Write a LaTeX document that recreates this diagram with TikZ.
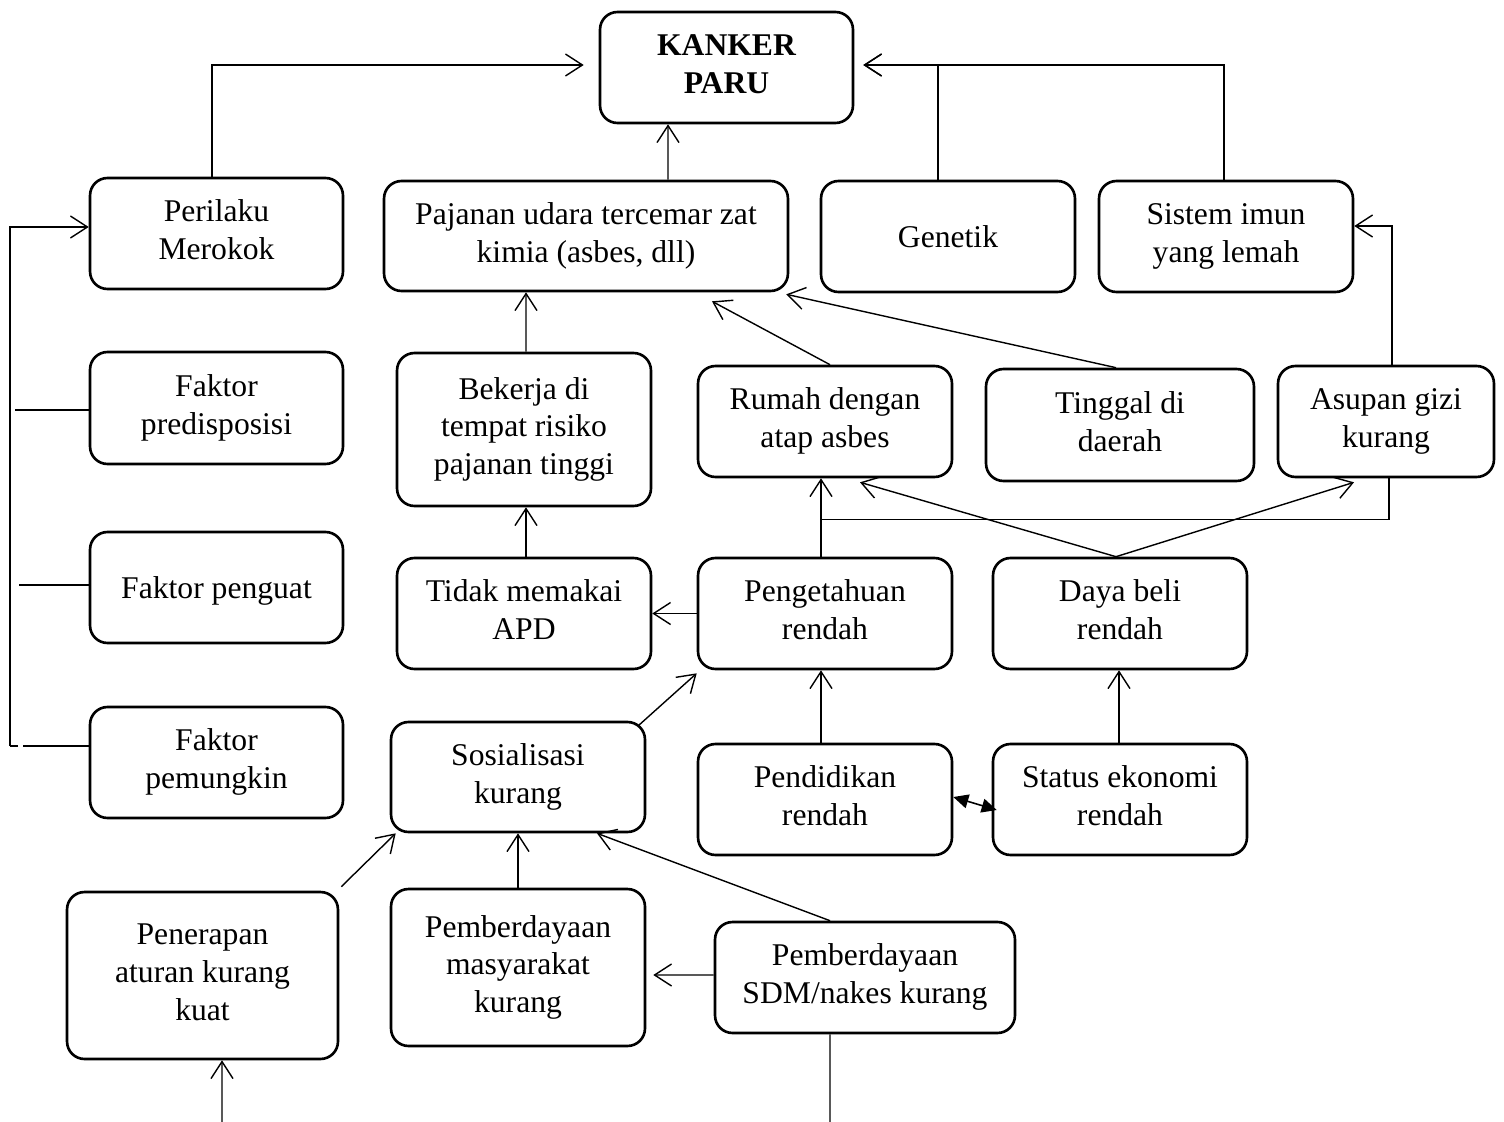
\documentclass[tikz,border=0pt]{standalone}
\usepackage{fontspec}
\setmainfont{Liberation Serif}
\usetikzlibrary{arrows.meta,calc}
\newcommand\topstrut{\rule{0pt}{16.5pt}}
\newcommand\botstrut{\rule[-4pt]{0pt}{4pt}}
\begin{document}
\begin{tikzpicture}[x=0.02cm,y=-0.02cm,
  box/.style={draw, line width=1.5pt, rounded corners=0.35cm, align=center, inner sep=0pt,
    font=\fontsize{18}{21.6}\selectfont, execute at begin node=\topstrut, execute at end node=\botstrut},
  arr/.style={line width=0.8pt, -{Straight Barb[length=0.34cm,width=0.44cm,line width=0.8pt]}},
  ln/.style={line width=0.8pt},
  dbl/.style={line width=0.9pt, {Triangle[length=0.3cm,width=0.28cm]}-{Triangle[length=0.3cm,width=0.28cm]}}
]
\useasboundingbox (0,0) rectangle (1504,1122);
\fill[white] (0,0) rectangle (1504,1122);

% nodes
\node[box, minimum width=5.06cm, minimum height=2.22cm, font=\fontsize{18}{21.6}\selectfont\bfseries] (kanker) at (726.5,67.5) {KANKER\\PARU};
\node[box, minimum width=5.06cm, minimum height=2.22cm] (perilaku) at (216.5,233.5) {Perilaku\\Merokok};
\node[box, minimum width=8.08cm, minimum height=2.2cm] (pajanan) at (586,236) {Pajanan udara tercemar zat\\kimia (asbes, dll)};
\node[box, minimum width=5.08cm, minimum height=2.22cm] (genetik) at (948,236.5) {Genetik};
\node[box, minimum width=5.08cm, minimum height=2.22cm] (imun) at (1226,236.5) {Sistem imun\\yang lemah};
\node[box, minimum width=5.06cm, minimum height=2.24cm] (predis) at (216.5,408) {Faktor\\predisposisi};
\node[box, minimum width=5.08cm, minimum height=3.06cm] (bekerja) at (524,429.5) {Bekerja di\\tempat risiko\\pajanan tinggi};
\node[box, minimum width=5.08cm, minimum height=2.22cm] (rumah) at (825,421.5) {Rumah dengan\\atap asbes};
\node[box, minimum width=5.36cm, minimum height=2.24cm] (tinggal) at (1120,425) {Tinggal di\\daerah};
\node[box, minimum width=4.32cm, minimum height=2.22cm] (asupan) at (1386,421.5) {Asupan gizi\\kurang};
\node[box, minimum width=5.06cm, minimum height=2.22cm] (penguat) at (216.5,587.5) {Faktor penguat};
\node[box, minimum width=5.08cm, minimum height=2.22cm] (tidak) at (524,613.5) {Tidak memakai\\APD};
\node[box, minimum width=5.08cm, minimum height=2.22cm] (penget) at (825,613.5) {Pengetahuan\\rendah};
\node[box, minimum width=5.08cm, minimum height=2.22cm] (daya) at (1120,613.5) {Daya beli\\rendah};
\node[box, minimum width=5.06cm, minimum height=2.22cm] (pemungkin) at (216.5,762.5) {Faktor\\pemungkin};
\node[box, minimum width=5.08cm, minimum height=2.2cm] (sosial) at (518,777) {Sosialisasi\\kurang};
\node[box, minimum width=5.08cm, minimum height=2.22cm] (pendidikan) at (825,799.5) {Pendidikan\\rendah};
\node[box, minimum width=5.08cm, minimum height=2.22cm] (status) at (1120,799.5) {Status ekonomi\\rendah};
\node[box, minimum width=5.42cm, minimum height=3.34cm] (penerapan) at (202.5,975.5) {Penerapan\\aturan kurang\\kuat};
\node[box, minimum width=5.08cm, minimum height=3.14cm] (masy) at (518,967.5) {Pemberdayaan\\masyarakat\\kurang};
\node[box, minimum width=6.0cm, minimum height=2.22cm] (sdm) at (865,977.5) {Pemberdayaan\\SDM/nakes kurang};

% free-end coordinates
\coordinate (lb) at (10,746);
\coordinate (lt) at (10,227);
\coordinate (lbs) at (18,746);
\coordinate (lbg) at (23,746);
\coordinate (lp1) at (15,410);
\coordinate (lp2) at (19,585);
\coordinate (b1) at (222,1122);
\coordinate (b2) at (830,1122);

% connectors to KANKER
\draw[arr, shorten >=0.3cm] ([xshift=-0.09cm]perilaku.north) |- ([yshift=0.05cm]kanker.west);
\draw[arr] ([xshift=1.64cm]pajanan.north) -- ([xshift=-1.17cm]kanker.south);
\draw[arr, shorten >=0.18cm] ([xshift=-0.2cm]genetik.north) |- ([yshift=0.05cm]kanker.east);
\draw[arr, shorten >=0.18cm] ([xshift=-0.04cm]imun.north) |- ([yshift=0.05cm]kanker.east);

% left bracket
\draw[ln] (lbs) -- (lb);
\draw[arr] (lb) -- (lt) -- (lt -| perilaku.west);
\draw[ln] (lp1) -- (lp1 -| predis.west);
\draw[ln] (lp2) -- (lp2 -| penguat.west);
\draw[ln] (lbg) -- (lbg -| pemungkin.west);

% to Pajanan
\draw[arr] ([xshift=0.04cm]bekerja.north) -- ([xshift=-1.2cm]pajanan.south);
\draw[arr] ([xshift=0.1cm]rumah.north) -- ([xshift=2.52cm,yshift=-0.18cm]pajanan.south);
\draw[arr] ([xshift=-0.08cm]tinggal.north) -- ([xshift=-0.06cm,yshift=-0.04cm]pajanan.south east);

% to Sistem imun
\draw[arr] ([xshift=0.12cm]asupan.north) |- ([yshift=0.21cm]imun.east);

% middle
\draw[arr] ([xshift=0.04cm]tidak.north) -- ([xshift=0.04cm]bekerja.south);
\draw[arr] (penget.west) -- (tidak.east);
\draw[arr] ([xshift=-0.08cm]penget.north) -- ([xshift=-0.08cm]rumah.south);
\draw[ln] ([xshift=-0.08cm,yshift=0.74cm]penget.north) -| ([xshift=0.06cm]asupan.south);
\draw[arr] ([xshift=-0.08cm]daya.north) -- ([xshift=0.7cm,yshift=-0.08cm]rumah.south);
\draw[arr] ([xshift=-0.08cm]daya.north) -- ([xshift=-0.64cm,yshift=-0.08cm]asupan.south);
\draw[arr] ([xshift=-0.08cm]pendidikan.north) -- ([xshift=-0.08cm]penget.south);
\draw[arr] ([xshift=-0.02cm]status.north) -- ([xshift=-0.02cm]daya.south);
\draw[dbl] ([yshift=0.05cm]pendidikan.east) -- ([xshift=0.1cm,yshift=-0.21cm]status.west);

% lower
\draw[arr] ([xshift=-0.16cm,yshift=-0.1cm]sosial.north east) -- ([yshift=-0.06cm]penget.south west);
\draw[arr] ([xshift=0.04cm,yshift=0.08cm]penerapan.north east) -- ([xshift=0.12cm]sosial.south west);
\draw[arr] (masy.north) -- (sosial.south);
\draw[arr] ([xshift=-0.7cm]sdm.north) -- ([xshift=1.58cm]sosial.south);
\draw[arr, shorten >=0.14cm] ([yshift=0.05cm]sdm.west) -- ([yshift=-0.15cm]masy.east);

% bottom free ends
\draw[arr] (b1) -- ([xshift=0.39cm]penerapan.south);
\draw[ln] ([xshift=-0.7cm]sdm.south) -- (b2);
\end{tikzpicture}
\end{document}
